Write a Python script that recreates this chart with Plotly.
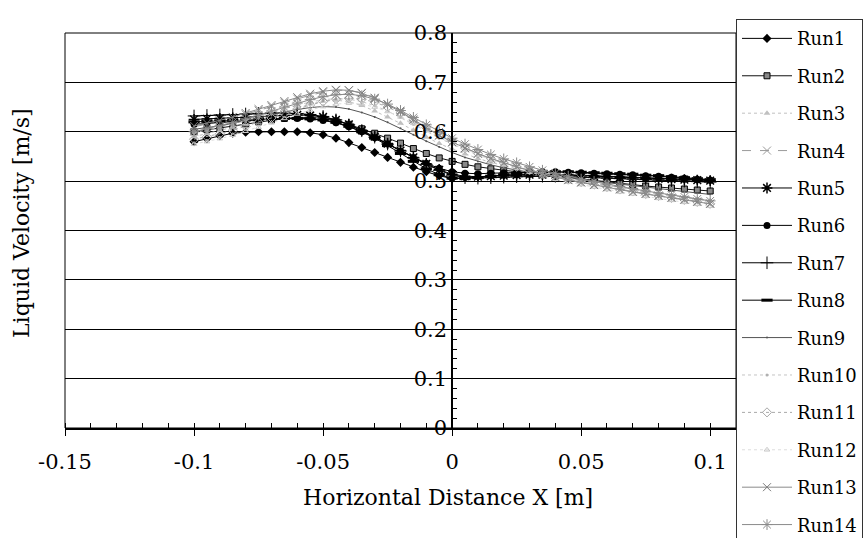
import plotly.graph_objects as go

x_vals = [-0.100, -0.095, -0.090, -0.085, -0.080, -0.075, -0.070, -0.065, -0.060, -0.055,
          -0.050, -0.045, -0.040, -0.035, -0.030, -0.025, -0.020, -0.015, -0.010, -0.005,
          0.000, 0.005, 0.010, 0.015, 0.020, 0.025, 0.030, 0.035, 0.040, 0.045,
          0.050, 0.055, 0.060, 0.065, 0.070, 0.075, 0.080, 0.085, 0.090, 0.095, 0.100]

run1 = [0.580,0.586,0.592,0.597,0.599,0.600,0.600,0.600,0.600,0.598, 0.594,0.587,0.578,0.568,0.558,0.548,0.538,0.528,0.519,0.511, 0.505,0.507,0.509,0.511,0.512,0.513,0.514,0.514,0.514,0.513, 0.512,0.511,0.510,0.509,0.508,0.507,0.506,0.505,0.504,0.503,0.502]
run2 = [0.600,0.604,0.608,0.612,0.616,0.620,0.624,0.627,0.629,0.629, 0.627,0.622,0.615,0.606,0.597,0.587,0.577,0.566,0.556,0.547, 0.540,0.534,0.529,0.525,0.522,0.519,0.516,0.513,0.510,0.507, 0.504,0.501,0.498,0.495,0.493,0.490,0.488,0.486,0.484,0.482,0.480]
run3 = [0.590,0.596,0.602,0.609,0.616,0.623,0.631,0.639,0.648,0.656, 0.662,0.664,0.661,0.653,0.642,0.630,0.617,0.603,0.589,0.576, 0.565,0.555,0.546,0.538,0.531,0.525,0.519,0.514,0.509,0.504, 0.499,0.495,0.491,0.487,0.483,0.479,0.475,0.471,0.468,0.464,0.461]
run4 = [0.610,0.615,0.621,0.628,0.635,0.643,0.651,0.659,0.667,0.674, 0.680,0.684,0.684,0.679,0.669,0.656,0.641,0.625,0.608,0.592, 0.578,0.566,0.555,0.545,0.536,0.528,0.521,0.515,0.509,0.503, 0.498,0.493,0.488,0.484,0.479,0.475,0.471,0.467,0.463,0.459,0.455]
run5 = [0.625,0.626,0.627,0.628,0.629,0.630,0.632,0.633,0.634,0.633, 0.630,0.624,0.615,0.603,0.590,0.576,0.562,0.548,0.535,0.523, 0.514,0.510,0.509,0.510,0.511,0.512,0.513,0.513,0.513,0.512, 0.511,0.510,0.509,0.508,0.507,0.506,0.505,0.504,0.503,0.502,0.501]
run6 = [0.615,0.617,0.619,0.621,0.623,0.625,0.626,0.627,0.627,0.626, 0.623,0.618,0.610,0.600,0.588,0.575,0.561,0.548,0.536,0.526, 0.519,0.516,0.515,0.516,0.517,0.518,0.519,0.519,0.519,0.518, 0.517,0.516,0.515,0.514,0.513,0.511,0.510,0.508,0.506,0.504,0.502]
run7 = [0.632,0.633,0.634,0.635,0.636,0.637,0.638,0.638,0.637,0.635, 0.631,0.624,0.614,0.602,0.589,0.575,0.561,0.547,0.534,0.522, 0.512,0.507,0.506,0.507,0.508,0.509,0.510,0.510,0.510,0.509, 0.508,0.507,0.506,0.505,0.504,0.503,0.502,0.501,0.500,0.499,0.498]
run8 = [0.620,0.621,0.622,0.623,0.624,0.625,0.626,0.627,0.627,0.626, 0.624,0.619,0.611,0.600,0.587,0.572,0.556,0.540,0.525,0.513, 0.506,0.505,0.507,0.510,0.513,0.516,0.518,0.519,0.519,0.519, 0.518,0.517,0.516,0.515,0.514,0.512,0.511,0.509,0.507,0.505,0.503]
run9 = [0.605,0.608,0.612,0.617,0.622,0.628,0.634,0.640,0.645,0.649, 0.651,0.650,0.646,0.639,0.630,0.619,0.607,0.594,0.581,0.569, 0.558,0.548,0.540,0.533,0.527,0.522,0.518,0.514,0.510,0.507, 0.503,0.500,0.497,0.494,0.491,0.488,0.485,0.482,0.479,0.476,0.473]
run10 = [0.598,0.603,0.609,0.616,0.623,0.631,0.639,0.647,0.654,0.660, 0.665,0.667,0.666,0.661,0.653,0.642,0.629,0.615,0.601,0.587, 0.575,0.564,0.554,0.545,0.537,0.530,0.523,0.517,0.511,0.506, 0.501,0.496,0.492,0.487,0.483,0.479,0.475,0.471,0.467,0.463,0.459]
run11 = [0.585,0.590,0.596,0.603,0.611,0.619,0.628,0.637,0.646,0.654, 0.661,0.666,0.668,0.666,0.660,0.650,0.638,0.624,0.609,0.594, 0.580,0.567,0.556,0.546,0.537,0.529,0.522,0.515,0.509,0.503, 0.498,0.493,0.488,0.483,0.479,0.474,0.470,0.466,0.462,0.458,0.454]
run12 = [0.575,0.580,0.586,0.593,0.601,0.609,0.618,0.627,0.636,0.644, 0.651,0.656,0.658,0.656,0.650,0.641,0.630,0.617,0.603,0.589, 0.576,0.564,0.553,0.543,0.534,0.526,0.518,0.511,0.504,0.498, 0.493,0.488,0.483,0.478,0.474,0.469,0.465,0.461,0.457,0.453,0.449]
run13 = [0.612,0.617,0.623,0.630,0.638,0.646,0.654,0.662,0.670,0.677, 0.682,0.685,0.684,0.678,0.668,0.655,0.640,0.624,0.608,0.593, 0.579,0.567,0.556,0.546,0.537,0.529,0.521,0.514,0.508,0.502, 0.497,0.492,0.487,0.483,0.478,0.474,0.470,0.466,0.462,0.458,0.454]
run14 = [0.600,0.606,0.612,0.619,0.626,0.634,0.642,0.650,0.658,0.665, 0.671,0.675,0.676,0.673,0.666,0.656,0.643,0.629,0.614,0.600, 0.587,0.575,0.564,0.554,0.545,0.537,0.529,0.522,0.516,0.510, 0.504,0.499,0.494,0.489,0.485,0.480,0.476,0.472,0.468,0.464,0.460]

names = ["Run1", "Run2", "Run3", "Run4", "Run5", "Run6", "Run7",
         "Run8", "Run9", "Run10", "Run11", "Run12", "Run13", "Run14"]
series = [run1, run2, run3, run4, run5, run6, run7, run8, run9, run10, run11, run12, run13, run14]

x_ticks = [-0.15, -0.1, -0.05, 0, 0.05, 0.1]
x_tick_labels = ["-0.15", "-0.1", "-0.05", "0", "0.05", "0.1"]
y_ticks = [0, 0.1, 0.2, 0.3, 0.4, 0.5, 0.6, 0.7, 0.8]
y_tick_labels = ["0", "0.1", "0.2", "0.3", "0.4", "0.5", "0.6", "0.7", "0.8"]

styles = [
    dict(lc="#000000", dash="solid", sym="diamond", ms=7, mc="#000000", mlw=0),
    dict(lc="#111111", dash="solid", sym="square", ms=6, mc="#888888", mlw=1),
    dict(lc="#c0c0c0", dash="dot", sym="triangle-up", ms=6, mc="#c0c0c0", mlw=0),
    dict(lc="#9a9a9a", dash="dash", sym="x-thin-open", ms=8, mc="#9a9a9a", mlw=1),
    dict(lc="#000000", dash="solid", sym="asterisk-open", ms=9, mc="#000000", mlw=1.5),
    dict(lc="#000000", dash="solid", sym="circle", ms=7, mc="#000000", mlw=0),
    dict(lc="#000000", dash="solid", sym="cross-thin-open", ms=9, mc="#000000", mlw=1),
    dict(lc="#000000", dash="solid", sym="line-ew-open", ms=8, mc="#000000", mlw=3),
    dict(lc="#555555", dash="solid", sym="circle", ms=2, mc="#555555", mlw=0),
    dict(lc="#c4c4c4", dash="dot", sym="circle", ms=3, mc="#b0b0b0", mlw=0),
    dict(lc="#a8a8a8", dash="dot", sym="diamond-open", ms=7, mc="#a8a8a8", mlw=1),
    dict(lc="#dddddd", dash="dot", sym="triangle-up-open", ms=5, mc="#c8c8c8", mlw=1),
    dict(lc="#8a8a8a", dash="solid", sym="x-thin-open", ms=8, mc="#7a7a7a", mlw=1),
    dict(lc="#8a8a8a", dash="solid", sym="asterisk-open", ms=9, mc="#8a8a8a", mlw=1),
]

for s in series:
    assert len(s) == len(x_vals)

fig = go.Figure()
for name, ys, st in zip(names, series, styles):
    fig.add_trace(go.Scatter(
        x=x_vals, y=ys, name=name, legendgroup=name, mode="lines+markers",
        line=dict(color=st["lc"], width=1, dash=st["dash"]),
        marker=dict(symbol=st["sym"], size=st["ms"], color=st["mc"],
                    line=dict(color=st["mc"] if st["sym"] != "square" else "#000000",
                              width=st["mlw"])),
    ))

FONT = "DejaVu Serif"
x_min, x_max = -0.15, 0.11
y_axis_pos = (0 - x_min) / (x_max - x_min)

fig.update_layout(
    width=864, height=538,
    margin=dict(l=65, r=128, t=33, b=110, autoexpand=False),
    paper_bgcolor="white", plot_bgcolor="white",
    font=dict(family=FONT, color="#000000", size=21),
    xaxis=dict(
        range=[x_min, x_max], tickvals=x_ticks, ticktext=x_tick_labels,
        showgrid=False, zeroline=False, showline=True, linecolor="#000000", linewidth=2,
        ticks="outside", ticklen=6, tickcolor="#000000", tickwidth=1,
        ticklabelstandoff=8,
        tickfont=dict(family=FONT, size=21),
        minor=dict(dtick=0.01, ticks="inside", ticklen=5, tickcolor="#000000", showgrid=False),
    ),
    yaxis=dict(
        range=[0, 0.8], tickvals=y_ticks, ticktext=y_tick_labels,
        anchor="free", position=y_axis_pos,
        showgrid=True, gridcolor="#000000", gridwidth=1,
        zeroline=False, showline=True, linecolor="#000000", linewidth=1.5,
        ticks="inside", ticklen=6, tickcolor="#000000",
        tickfont=dict(family=FONT, size=21),
        minor=dict(dtick=0.02, ticks="inside", ticklen=4, tickcolor="#000000", showgrid=False),
    ),
    legend=dict(
        x=1.0, xanchor="left", y=1.035, yanchor="top",
        bgcolor="white", bordercolor="#333333", borderwidth=1,
        font=dict(family=FONT, size=18, color="#000000"),
        tracegroupgap=11, itemwidth=50, maxheight=1,
    ),
    showlegend=True,
)

fig.add_shape(type="rect", xref="paper", yref="paper", x0=0, y0=0, x1=1, y1=1,
              line=dict(color="#000000", width=1), layer="above")

fig.add_annotation(text="Horizontal Distance X [m]", xref="paper", yref="paper",
                   x=0.571, y=-0.177, xanchor="center", yanchor="middle",
                   showarrow=False, font=dict(family=FONT, size=22))
fig.add_annotation(text="Liquid Velocity [m/s]", xref="paper", yref="paper",
                   x=-0.065, y=0.52, xanchor="center", yanchor="middle", textangle=-90,
                   showarrow=False, font=dict(family=FONT, size=22))

fig.write_html("out.html")
